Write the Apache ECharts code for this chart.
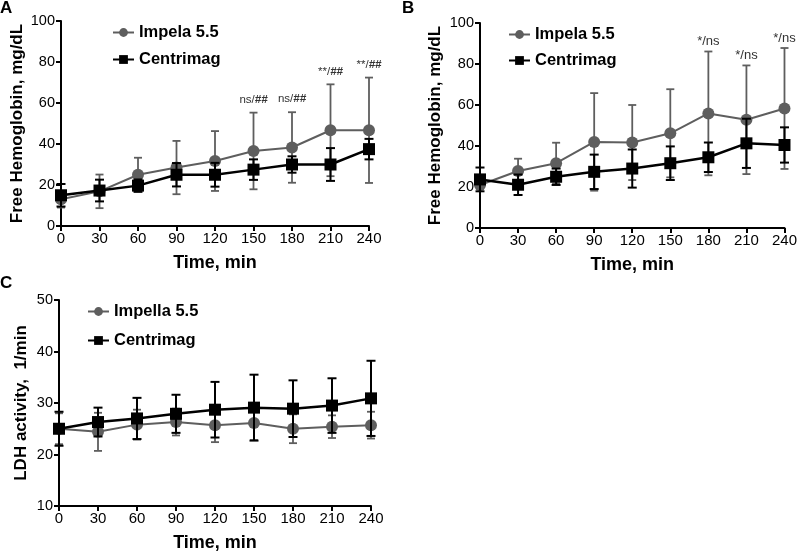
<!DOCTYPE html>
<html><head><meta charset="utf-8">
<script src="https://cdn.jsdelivr.net/npm/echarts@6/dist/echarts.min.js"></script>
<style>html,body{margin:0;padding:0;background:#fff}#c{width:800px;height:554px}</style>
</head><body><div id="c"></div>
<script>
const times = [0, 30, 60, 90, 120, 150, 180, 210, 240];
const xTicks = ['0','30','60','90','120','150','180','210','240'];

// Panel A: Free hemoglobin
const aImpelaMean = [13, 16.9, 25, 28.5, 31.7, 36.6, 38.3, 46.7, 46.7];
const aImpelaSD   = [4, 8.2, 8.3, 13, 14.6, 18.7, 17.2, 22.4, 25.7];
const aCentriMean = [15, 17.3, 19.7, 25, 25, 27.5, 30, 30, 37.5];
const aCentriSD   = [5.5, 5.3, 3, 5.7, 5.8, 5, 4, 8, 5];
const aSig = ['', '', '', '', '', 'ns/##', 'ns/##', '**/##', '**/##'];

// Panel B: Free hemoglobin
const bImpelaMean = [21, 27.8, 31.6, 42, 41.7, 46.2, 55.9, 52.8, 58.3];
const bImpelaSD   = [2, 6, 10, 23.8, 18.3, 21.5, 30.2, 26.5, 29.5];
const bCentriMean = [23.7, 21.1, 25, 27.4, 29, 31.6, 34.5, 41.3, 40.5];
const bCentriSD   = [5.8, 5, 4, 8.4, 9.3, 8.2, 7.2, 12, 8.6];
const bSig = ['', '', '', '', '', '', '*/ns', '*/ns', '*/ns'];

// Panel C: LDH activity
const cImpellaMean = [25, 24.4, 25.8, 26.3, 25.7, 26.1, 25, 25.4, 25.7];
const cImpellaSD   = [3, 3.7, 2.9, 2.6, 3.3, 3.3, 2.8, 2.2, 2.6];
const cCentriMean  = [25, 26.3, 27, 27.9, 28.7, 29.1, 28.9, 29.5, 30.9];
const cCentriSD    = [3.3, 2.8, 4, 3.7, 5.4, 6.4, 5.5, 5.3, 7.3];

const GRAY = '#5e5e5e', BLACK = '#000';
const FONT = 'Liberation Sans, Arial, Helvetica, sans-serif';

function pairs(mean){ return times.map((t,i)=>[t, mean[i]]); }
function triples(mean, sd){ return times.map((t,i)=>[t, mean[i], sd[i]]); }

function errSeries(gi, mean, sd, color, lw, capW, z){
  return {
    type:'custom', xAxisIndex:gi, yAxisIndex:gi, z:z, silent:true,
    data: triples(mean, sd), encode:{x:0, y:1},
    renderItem: function(params, api){
      const x = api.value(0), m = api.value(1), s = api.value(2);
      const top = api.coord([x, m + s]), bot = api.coord([x, m - s]);
      const hw = capW/2, st = {stroke:color, lineWidth:lw};
      return {type:'group', children:[
        {type:'line', shape:{x1:top[0], y1:top[1], x2:bot[0], y2:bot[1]}, style:st},
        {type:'line', shape:{x1:top[0]-hw, y1:top[1], x2:top[0]+hw, y2:top[1]}, style:st},
        {type:'line', shape:{x1:bot[0]-hw, y1:bot[1], x2:bot[0]+hw, y2:bot[1]}, style:st}
      ]};
    }
  };
}

function sigSeries(gi, mean, sd, labels, off, fs){
  return {
    type:'custom', xAxisIndex:gi, yAxisIndex:gi, z:10, silent:true,
    data: triples(mean, sd), encode:{x:0, y:1},
    renderItem: function(params, api){
      const txt = labels[params.dataIndex];
      if (!txt) return null;
      const p = api.coord([api.value(0), api.value(1) + api.value(2)]);
      const parts = txt.split('/');
      const hash = parts[1] === '##';
      return {type:'text', x:p[0], y:p[1] - off, style:{
        text: '{a|' + parts[0] + '/}{b|' + parts[1] + '}',
        align:'center', verticalAlign:'middle',
        rich:{
          a:{fontSize:fs, fontFamily:FONT, fill:'#333'},
          b:{fontSize:fs, fontFamily:FONT, fill:'#333', fontWeight: hash ? 'bold':'normal', fontStyle: hash ? 'italic':'normal'}
        }
      }};
    }
  };
}

function lineSeries(gi, name, mean, color, symbol, size, lw, z){
  return {
    type:'line', name:name, xAxisIndex:gi, yAxisIndex:gi, z:z,
    data: pairs(mean), symbol:symbol, symbolSize:size, showSymbol:true,
    lineStyle:{color:color, width:lw}, itemStyle:{color:color},
    emphasis:{disabled:true}, animation:false
  };
}

function xAxis(gi){
  return {
    type:'value', gridIndex:gi, min:0, max:240, interval:30,
    name:'Time, min', nameLocation:'middle', nameGap:28,
    nameTextStyle:{fontSize:18, fontWeight:'bold', color:'#000', fontFamily:FONT},
    axisLine:{lineStyle:{color:'#000', width:2}},
    axisTick:{show:true, length:5, lineStyle:{color:'#000', width:2}},
    axisLabel:{fontSize:15, color:'#000', fontFamily:FONT, margin:5,
      formatter:function(v){ const i = times.indexOf(v); return i>=0 ? xTicks[i] : ''; }},
    splitLine:{show:false}
  };
}
function yAxis(gi, min, max, interval, name, gap){
  return {
    type:'value', gridIndex:gi, min:min, max:max, interval:interval,
    name:name, nameLocation:'middle', nameGap:gap,
    nameTextStyle:{fontSize:17, fontWeight:'bold', color:'#000', fontFamily:FONT},
    axisLine:{show:true, lineStyle:{color:'#000', width:2}},
    axisTick:{show:true, length:5, lineStyle:{color:'#000', width:2}},
    axisLabel:{fontSize:14.5, color:'#000', fontFamily:FONT, margin:6},
    splitLine:{show:false}
  };
}

function legend(left, top, gap, names){
  return {
    left:left, top:top, orient:'vertical', itemGap:gap, itemWidth:21, itemHeight:11,
    padding:0, data:names, selectedMode:false,
    textStyle:{fontSize:16.5, fontWeight:'bold', color:'#000', fontFamily:FONT}
  };
}

const chart = echarts.init(document.getElementById('c'), null, {renderer:'canvas'});
chart.setOption({
  animation:false,
  backgroundColor:'#fff',
  textStyle:{fontFamily:FONT},
  grid:[
    {left:61, top:21, width:308, height:205},
    {left:480, top:23, width:308, height:205},
    {left:59, top:300, width:312, height:206}
  ],
  xAxis:[xAxis(0), xAxis(1), xAxis(2)],
  yAxis:[
    yAxis(0, 0, 100, 20, 'Free Hemoglobin, mg/dL', 35),
    yAxis(1, 0, 100, 20, 'Free Hemoglobin, mg/dL', 36),
    yAxis(2, 10, 50, 10, 'LDH activity,  1/min', 29)
  ],
  legend:[
    legend(112, 24, 10, ['Impela 5.5', 'Centrimag']),
    legend(508, 26, 9, ['Impela 5.5', 'Centrimag']),
    legend(87, 303, 12, ['Impella 5.5', 'Centrimag'])
  ],
  graphic:[
    {type:'text', left:0, top:0, style:{text:'A', fontSize:17, fontWeight:'bold', fill:'#000', fontFamily:FONT}},
    {type:'text', left:402, top:0, style:{text:'B', fontSize:17, fontWeight:'bold', fill:'#000', fontFamily:FONT}},
    {type:'text', left:0, top:275, style:{text:'C', fontSize:17, fontWeight:'bold', fill:'#000', fontFamily:FONT}}
  ],
  series:[
    errSeries(0, aImpelaMean, aImpelaSD, GRAY, 1.8, 8, 1),
    lineSeries(0, 'Impela 5.5', aImpelaMean, GRAY, 'circle', 12, 2, 2),
    errSeries(0, aCentriMean, aCentriSD, BLACK, 2, 9, 3),
    lineSeries(0, 'Centrimag', aCentriMean, BLACK, 'rect', 12, 2.5, 4),
    sigSeries(0, aImpelaMean, aImpelaSD, aSig, 13, 11.5),

    errSeries(1, bImpelaMean, bImpelaSD, GRAY, 1.8, 8, 1),
    lineSeries(1, 'Impela 5.5', bImpelaMean, GRAY, 'circle', 12, 2, 2),
    errSeries(1, bCentriMean, bCentriSD, BLACK, 2, 9, 3),
    lineSeries(1, 'Centrimag', bCentriMean, BLACK, 'rect', 12, 2.5, 4),
    sigSeries(1, bImpelaMean, bImpelaSD, bSig, 10, 13),

    errSeries(2, cImpellaMean, cImpellaSD, GRAY, 1.8, 8, 1),
    lineSeries(2, 'Impella 5.5', cImpellaMean, GRAY, 'circle', 12, 2, 2),
    errSeries(2, cCentriMean, cCentriSD, BLACK, 2, 9, 3),
    lineSeries(2, 'Centrimag', cCentriMean, BLACK, 'rect', 12, 2.5, 4)
  ]
});
</script></body></html>
